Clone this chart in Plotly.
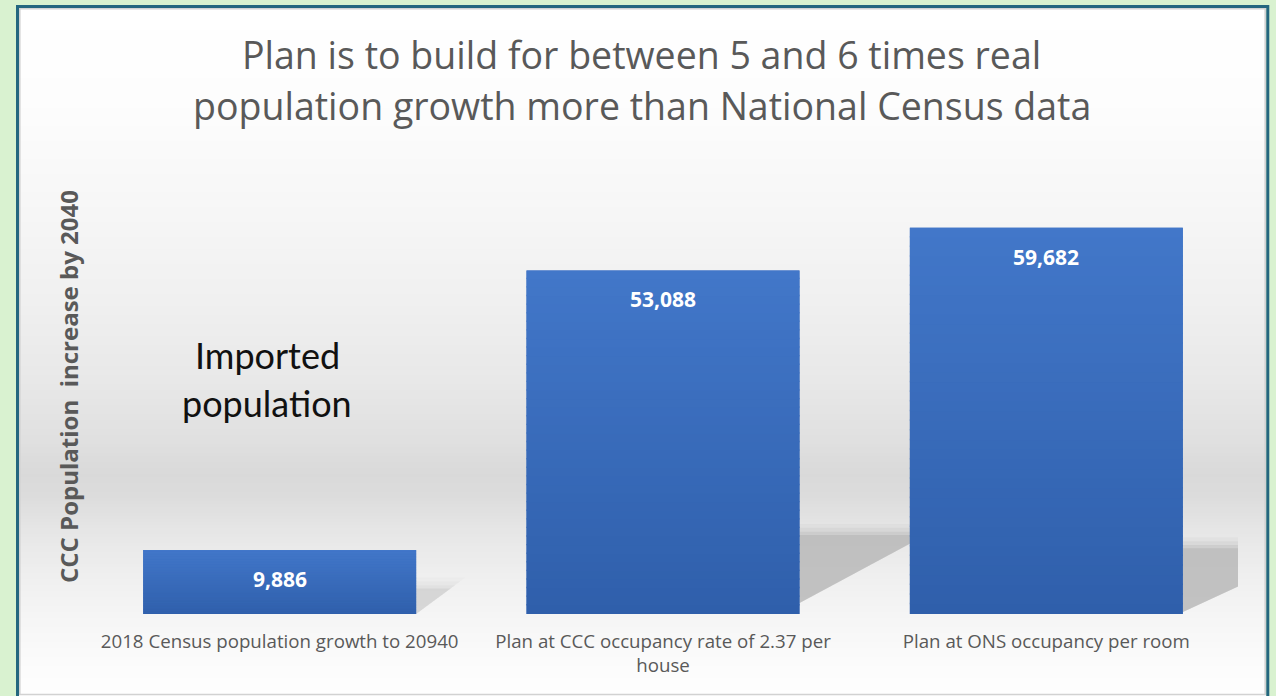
import numpy as np
import plotly.graph_objects as go

# ---------------- data ----------------
categories = [
    "2018 Census population growth to 20940",
    "Plan at CCC occupancy rate of 2.37 per house",
    "Plan at ONS occupancy per room",
]
tick_labels = [
    "2018 Census population growth to 20940",
    "Plan at CCC occupancy rate of 2.37 per<br>house",
    "Plan at ONS occupancy per room",
]
values = [9886, 53088, 59682]
value_labels = ["9,886", "53,088", "59,682"]

title_lines = [
    "Plan is to build for between 5 and 6 times real",
    "population growth more than National Census data",
]
note_lines = ["Imported", "population"]
y_title = "CCC Population  increase by 2040"

# ---------------- layout geometry ----------------
W, H = 1276, 696
L, R, T, B = 88, 1238, 161, 614
Y_MAX = 70000
BAR_W = 0.712
BAR_TOP_RGB = np.array([66, 119, 201])
BAR_BOT_RGB = np.array([47, 95, 171])


def px_x(px):
    return (px - L) / (R - L)


def px_y(py):
    return (B - py) / (B - T)


shapes = []

# background vertical gradient (inside the frame)
grad_y = [6, 100, 200, 300, 380, 440, 475, 500, 530, 570, 614, 660, 696]
grad_v = [255, 253, 247, 240, 232, 224, 217, 221, 230, 238, 245, 251, 254]
step = 3
for y0 in range(6, 696, step):
    g = int(round(np.interp(y0 + step / 2, grad_y, grad_v)))
    shapes.append(dict(
        type="rect", xref="paper", yref="paper", layer="below",
        x0=px_x(19), x1=px_x(1266), y0=px_y(y0), y1=px_y(y0 + step + 0.6),
        fillcolor=f"rgb({g},{g},{g})", line=dict(width=0),
    ))

# frame: inner light line + teal border
shapes.append(dict(
    type="rect", xref="paper", yref="paper", layer="below",
    x0=px_x(19.8), x1=px_x(1265.2), y0=px_y(8.8), y1=px_y(694.5),
    fillcolor="rgba(0,0,0,0)", line=dict(color="#d2d2d2", width=1.6),
))
shapes.append(dict(
    type="rect", xref="paper", yref="paper", layer="below",
    x0=px_x(17.5), x1=px_x(1267.8), y0=px_y(6.5), y1=px_y(702),
    fillcolor="rgba(0,0,0,0)", line=dict(color="#24667f", width=3),
))

# soft perspective shadows behind the bars (style parameters)
shadow_height_frac = [0.40, 0.23, 0.17]
shadow_reach = [0.09, 0.33, 0.36]
shadow_foot_frac = [0.0, 0.032, 0.005]
shadow_strength = [0.45, 1.0, 1.0]
for i, v in enumerate(values):
    xr = i + BAR_W / 2
    top = v * shadow_height_frac[i]
    foot = v * shadow_foot_frac[i]
    reach = shadow_reach[i]
    s = shadow_strength[i]
    for extra, op in [(1700, 0.12), (1100, 0.18), (500, 0.3), (0, 0.55)]:
        t = top + extra
        rr = reach * (t - foot) / (top - foot)
        path = f"M {xr},{foot} L {xr + rr},{t} L {xr},{t} Z"
        shapes.append(dict(
            type="path", xref="x", yref="y", layer="below", path=path,
            fillcolor="#b4b4b4", opacity=op * s, line=dict(width=0),
        ))

# vertical colour gradient painted over each bar (derived from bar values)
N_STRIPES = 40
for i, v in enumerate(values):
    edges = np.linspace(0, v, N_STRIPES + 1)
    for k in range(N_STRIPES):
        f = (k + 0.5) / N_STRIPES          # 0 bottom -> 1 top
        c = np.round(BAR_BOT_RGB + (BAR_TOP_RGB - BAR_BOT_RGB) * f).astype(int)
        shapes.append(dict(
            type="rect", xref="x", yref="y", layer="above",
            x0=i - BAR_W / 2, x1=i + BAR_W / 2,
            y0=edges[k], y1=min(v, edges[k + 1] + v * 0.004),
            fillcolor=f"rgb({c[0]},{c[1]},{c[2]})", line=dict(width=0),
        ))

# ---------------- figure ----------------
fig = go.Figure()
fig.add_trace(go.Bar(
    x=list(range(len(categories))), y=values, width=BAR_W,
    marker=dict(color="#3a6dbe", line=dict(width=0)),
    hovertext=categories, hoverinfo="text+y",
))

annotations = []
for i, (v, lab) in enumerate(zip(values, value_labels)):
    annotations.append(dict(
        x=i, y=v, xref="x", yref="y", text=f"<b>{lab}</b>", showarrow=False,
        yanchor="top", yshift=-13,
        font=dict(family="Open Sans", size=21, color="white"),
    ))

# chart title (two lines)
for k, line in enumerate(title_lines):
    annotations.append(dict(
        x=px_x(641.5), y=px_y(55 + 50 * k), xref="paper", yref="paper",
        text=line, showarrow=False, xanchor="center", yanchor="middle",
        font=dict(family="Open Sans", size=37.5, color="#595959"),
    ))

# note text
for k, line in enumerate(note_lines):
    annotations.append(dict(
        x=px_x(267), y=px_y(355 + 48 * k), xref="paper", yref="paper",
        text=line, showarrow=False, xanchor="center", yanchor="middle",
        font=dict(family="Lato", size=36, color="#111111"),
    ))

# y axis title
annotations.append(dict(
    x=px_x(68), y=px_y(387), xref="paper", yref="paper",
    text=f"<b>{y_title}</b>", showarrow=False, textangle=-90,
    xanchor="center", yanchor="middle",
    font=dict(family="Open Sans", size=24, color="#595959"),
))

fig.update_layout(
    width=W, height=H,
    margin=dict(l=L, r=W - R, t=T, b=H - B, pad=0),
    paper_bgcolor="#d9f2d0",
    plot_bgcolor="rgba(0,0,0,0)",
    showlegend=False,
    shapes=shapes,
    annotations=annotations,
    xaxis=dict(
        tickmode="array", tickvals=list(range(len(categories))),
        ticktext=tick_labels, range=[-0.5, len(categories) - 0.5],
        showgrid=False, zeroline=False, showline=False, ticks="",
        ticklabelstandoff=14,
        tickfont=dict(family="Open Sans", size=18.7, color="#595959"),
    ),
    yaxis=dict(
        range=[0, Y_MAX], showgrid=False, zeroline=False,
        showticklabels=False, showline=False, ticks="",
    ),
)

fig.write_html("out.html")
